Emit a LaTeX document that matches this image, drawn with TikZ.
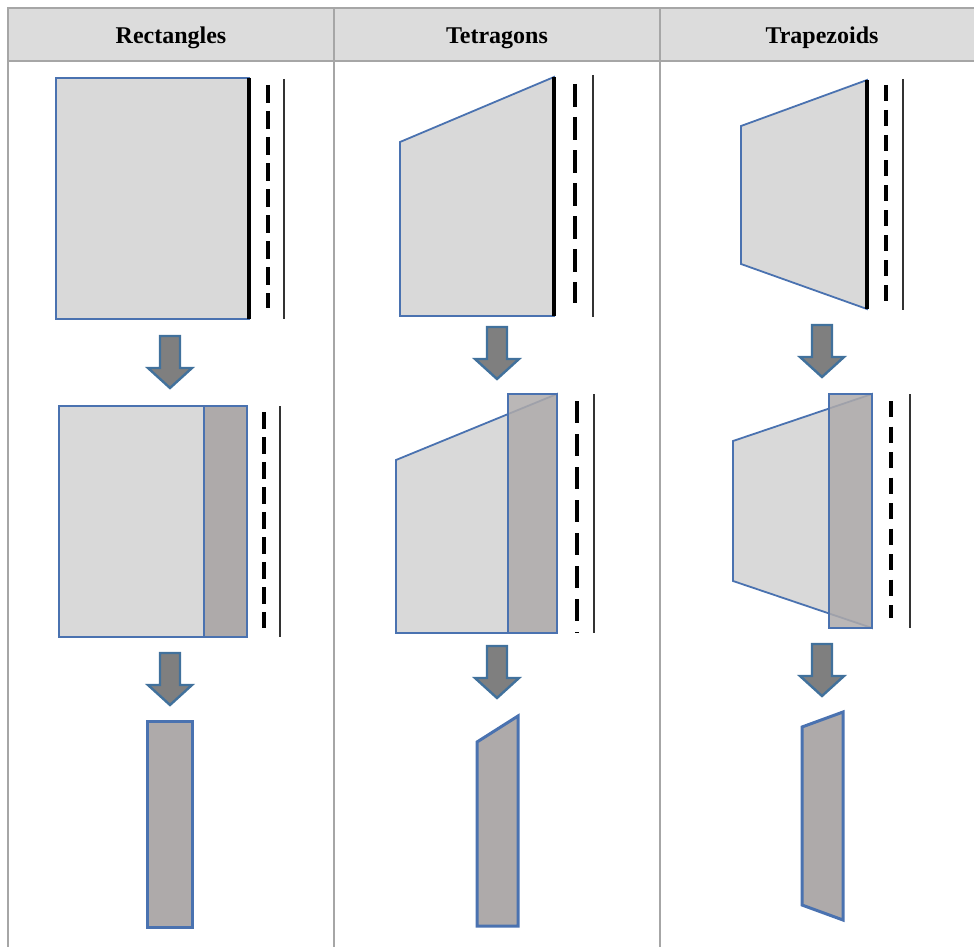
\documentclass[tikz,border=0pt]{standalone}
\usepackage{fontspec}
\setmainfont{Liberation Serif}
\definecolor{gridgray}{HTML}{A6A6A6}
\definecolor{headfill}{HTML}{DCDCDC}
\definecolor{lightfill}{HTML}{D9D9D9}
\definecolor{stripfill}{HTML}{AEAAAA}
\definecolor{shapeblue}{HTML}{4A72B0}
\definecolor{arrowblue}{HTML}{41719C}
\definecolor{arrowgray}{HTML}{7F7F7F}
\definecolor{darkline}{HTML}{333333}
\tikzset{
  grid/.style={draw=gridgray, line width=1.6pt},
  headtext/.style={font=\fontsize{24}{28}\selectfont\bfseries, inner sep=0pt, anchor=center},
  lightshape/.style={draw=shapeblue, line width=1.8pt, fill=lightfill, line join=miter},
  stripshape/.style={draw=shapeblue, line width=2pt, fill=stripfill, line join=miter},
  cutshape/.style={draw=shapeblue, line width=3pt, fill=stripfill, line join=miter},
  blackedge/.style={line width=3.2pt, black},
  solidrule/.style={line width=2.4pt, darkline},
  dashrule/.style={line width=3.2pt, black},
  blockarrow/.style={draw=arrowblue, line width=2.4pt, fill=arrowgray, line join=miter},
  downarrow/.pic={\draw[blockarrow] (-10,0) -- (10,0) -- (10,32) -- (22,32) -- (0,52) -- (-22,32) -- (-10,32) -- cycle;}
}
\begin{document}
\begin{tikzpicture}[x=1pt,y=-1pt]
\useasboundingbox (0,0) rectangle (974,947);
% table
\fill[headfill] (8,8) rectangle (974,61);
\draw[grid] (974,8) -- (8,8) -- (8,947);
\draw[grid] (8,61) -- (974,61);
\draw[grid] (334,8) -- (334,947);
\draw[grid] (660,8) -- (660,947);
\node[headtext] (h1) at (171,38) {Rectangles};
\node[headtext] (h2) at (497,38) {Tetragons};
\node[headtext] (h3) at (822,38) {Trapezoids};

% ---------- Column 1: rectangles
\coordinate (r1a) at (56,78); \coordinate (r1b) at (249,319);
\draw[lightshape] (r1a) rectangle (r1b);
\draw[blackedge] (249,78) -- (249,319);
\draw[dashrule, dash pattern=on 18pt off 8pt] (268,85) -- (268,308);
\draw[solidrule] (284,79) -- (284,319);
\pic at (170,336) {downarrow};
\draw[lightshape] (59,406) rectangle (247,637);
\draw[stripshape] (204,406) rectangle (247,637);
\draw[dashrule, dash pattern=on 16.5pt off 8.5pt] (264,412) -- (264,628);
\draw[solidrule] (280,406) -- (280,637);
\pic at (170,653) {downarrow};
\draw[cutshape] (147,721) rectangle (192,927);

% ---------- Column 2: tetragons
\draw[lightshape] (400,142) -- (554,77) -- (554,316) -- (400,316) -- cycle;
\draw[blackedge] (554,77) -- (554,316);
\draw[dashrule, dash pattern=on 23pt off 10pt] (575,84) -- (575,303);
\draw[solidrule] (593,75) -- (593,317);
\pic at (497,327) {downarrow};
\draw[lightshape] (396,460) -- (557,394) -- (557,633) -- (396,633) -- cycle;
\draw[stripshape, fill opacity=0.85] (508,394) rectangle (557,633);
\draw[dashrule, dash pattern=on 22pt off 11pt] (577,401) -- (577,633);
\draw[solidrule] (594,394) -- (594,633);
\pic at (497,646) {downarrow};
\draw[cutshape] (477,742) -- (518,716) -- (518,926) -- (477,926) -- cycle;

% ---------- Column 3: trapezoids
\draw[lightshape] (741,126) -- (867,80) -- (867,309) -- (741,264) -- cycle;
\draw[blackedge] (867,80) -- (867,309);
\draw[dashrule, dash pattern=on 16pt off 9pt] (886,85) -- (886,301);
\draw[solidrule] (903,79) -- (903,310);
\pic at (822,325) {downarrow};
\draw[lightshape] (733,441) -- (872,394) -- (872,628) -- (733,581) -- cycle;
\draw[stripshape, fill opacity=0.85] (829,394) rectangle (872,628);
\draw[dashrule, dash pattern=on 16pt off 9.5pt] (891,401) -- (891,618);
\draw[solidrule] (910,394) -- (910,628);
\pic at (822,644) {downarrow};
\draw[cutshape] (802,727) -- (843,712) -- (843,920) -- (802,905) -- cycle;
\end{tikzpicture}
\end{document}
